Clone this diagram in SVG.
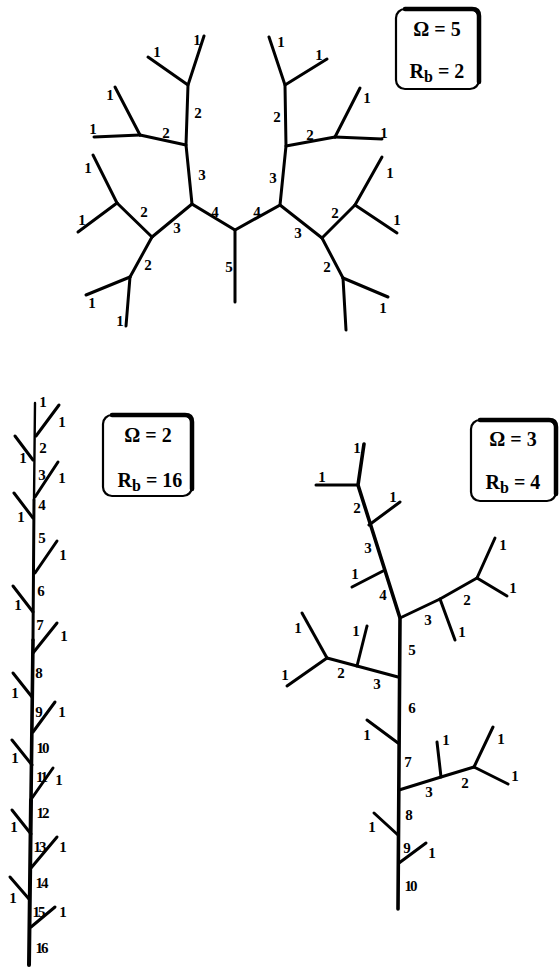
<svg xmlns="http://www.w3.org/2000/svg" width="559" height="967" viewBox="0 0 559 967">
<style>
.e{stroke:#000;stroke-width:3;stroke-linecap:round;fill:none}
.m{stroke-width:3.6}
.t{font-family:"Liberation Serif","Times New Roman",serif;font-weight:bold;font-size:15px;text-anchor:middle;fill:#000}
.b{font-family:"Liberation Serif","Times New Roman",serif;font-weight:bold;font-size:20px;text-anchor:middle;fill:#000}
.bx{fill:#fff;stroke:#000;stroke-width:2.2}
.sh{fill:none;stroke:#000;stroke-width:4.5;stroke-linecap:round}
</style>
<rect width="559" height="967" fill="#fff"/>

<!-- Tree 1 (Omega = 5) -->
<g id="tree1">
<g id="tree1-connectors">
<polyline class="e" points="204,36 188,85 186,145 192,204 235,230 280,205 286,146 285,85 269,37"/>
<line class="e" x1="148" y1="57" x2="188" y2="85"/>
<line class="e" x1="186" y1="145" x2="140" y2="135"/>
<line class="e" x1="140" y1="135" x2="94" y2="137"/>
<line class="e" x1="140" y1="135" x2="115" y2="87"/>
<line class="e" x1="235" y1="230" x2="235" y2="302"/>
<line class="e" x1="192" y1="204" x2="152" y2="237"/>
<line class="e" x1="152" y1="237" x2="117" y2="203"/>
<line class="e" x1="117" y1="203" x2="93" y2="155"/>
<line class="e" x1="117" y1="203" x2="78" y2="232"/>
<line class="e" x1="152" y1="237" x2="130" y2="277"/>
<line class="e" x1="130" y1="277" x2="86" y2="295"/>
<line class="e" x1="130" y1="277" x2="126" y2="326"/>
<line class="e" x1="327" y1="59" x2="285" y2="85"/>
<line class="e" x1="286" y1="146" x2="335" y2="137"/>
<line class="e" x1="335" y1="137" x2="382" y2="139"/>
<line class="e" x1="335" y1="137" x2="360" y2="88"/>
<line class="e" x1="280" y1="205" x2="322" y2="238"/>
<line class="e" x1="322" y1="238" x2="355" y2="205"/>
<line class="e" x1="355" y1="205" x2="382" y2="157"/>
<line class="e" x1="355" y1="205" x2="397" y2="233"/>
<line class="e" x1="322" y1="238" x2="343" y2="278"/>
<line class="e" x1="343" y1="278" x2="388" y2="297"/>
<line class="e" x1="343" y1="278" x2="346" y2="330"/>
</g>
<g id="tree1-labels">
<text class="t" x="157" y="57">1</text>
<text class="t" x="197" y="45">1</text>
<text class="t" x="198" y="118">2</text>
<text class="t" x="110" y="100">1</text>
<text class="t" x="93" y="134">1</text>
<text class="t" x="166" y="138">2</text>
<text class="t" x="202" y="180">3</text>
<text class="t" x="215" y="217">4</text>
<text class="t" x="229" y="272">5</text>
<text class="t" x="177" y="233">3</text>
<text class="t" x="144" y="217">2</text>
<text class="t" x="88" y="173">1</text>
<text class="t" x="82" y="225">1</text>
<text class="t" x="148" y="270">2</text>
<text class="t" x="92" y="308">1</text>
<text class="t" x="120" y="326">1</text>
<text class="t" x="281" y="47">1</text>
<text class="t" x="319" y="60">1</text>
<text class="t" x="277" y="122">2</text>
<text class="t" x="310" y="140">2</text>
<text class="t" x="384" y="138">1</text>
<text class="t" x="367" y="103">1</text>
<text class="t" x="273" y="183">3</text>
<text class="t" x="257" y="217">4</text>
<text class="t" x="298" y="238">3</text>
<text class="t" x="335" y="218">2</text>
<text class="t" x="390" y="178">1</text>
<text class="t" x="397" y="225">1</text>
<text class="t" x="327" y="272">2</text>
<text class="t" x="383" y="313">1</text>
</g>
</g>

<g id="legend1">
<rect class="bx" x="396" y="9" width="83" height="80" rx="9"/>
<path class="sh" d="M405,9 H472 Q479,9 479,16 V82"/>
<text class="b" x="437" y="36">Ω = 5</text>
<text class="b" x="437" y="78">R<tspan font-size="16" dy="4">b</tspan><tspan dy="-4"> = 2</tspan></text>
</g>

<!-- Tree 2 (Omega = 2) -->
<g id="tree2">
<g id="tree2-connectors">
<line class="e" style="stroke-width:2.4" x1="35" y1="403" x2="34" y2="500"/>
<line class="e" style="stroke-width:3" x1="34" y1="500" x2="33" y2="640"/>
<line class="e" style="stroke-width:3.6" x1="33" y1="640" x2="31" y2="800"/>
<line class="e" style="stroke-width:4" x1="31" y1="800" x2="29" y2="965"/>
<line class="e" x1="36" y1="436" x2="59" y2="405"/>
<line class="e" x1="15" y1="436" x2="33" y2="460"/>
<line class="e" x1="35" y1="497" x2="58" y2="462"/>
<line class="e" x1="14" y1="493" x2="33" y2="518"/>
<line class="e" x1="35" y1="573" x2="57" y2="541"/>
<line class="e" x1="13" y1="586" x2="33" y2="612"/>
<line class="e" x1="33" y1="653" x2="57" y2="623"/>
<line class="e" x1="13" y1="673" x2="32" y2="697"/>
<line class="e" x1="33" y1="732" x2="55" y2="702"/>
<line class="e" x1="12" y1="740" x2="32" y2="765"/>
<line class="e" x1="32" y1="798" x2="53" y2="768"/>
<line class="e" x1="12" y1="810" x2="31" y2="834"/>
<line class="e" x1="31" y1="868" x2="57" y2="837"/>
<line class="e" x1="10" y1="877" x2="29" y2="899"/>
<line class="e" x1="31" y1="927" x2="55" y2="907"/>
</g>
<g id="tree2-labels">
<text class="t" x="43" y="407">1</text>
<text class="t" x="62" y="427">1</text>
<text class="t" x="43" y="453">2</text>
<text class="t" x="23" y="463">1</text>
<text class="t" x="42" y="480">3</text>
<text class="t" x="62" y="483">1</text>
<text class="t" x="42" y="510">4</text>
<text class="t" x="21" y="522">1</text>
<text class="t" x="42" y="543">5</text>
<text class="t" x="63" y="560">1</text>
<text class="t" x="41" y="596">6</text>
<text class="t" x="18" y="610">1</text>
<text class="t" x="40" y="630">7</text>
<text class="t" x="64" y="641">1</text>
<text class="t" x="39" y="678">8</text>
<text class="t" x="15" y="698">1</text>
<text class="t" x="39" y="717">9</text>
<text class="t" x="62" y="717">1</text>
<text class="t" x="42" y="753" letter-spacing="-2">10</text>
<text class="t" x="15" y="763">1</text>
<text class="t" x="41" y="782" letter-spacing="-2">11</text>
<text class="t" x="59" y="785">1</text>
<text class="t" x="42" y="818" letter-spacing="-2">12</text>
<text class="t" x="14" y="832">1</text>
<text class="t" x="39" y="852" letter-spacing="-2">13</text>
<text class="t" x="63" y="852">1</text>
<text class="t" x="41" y="888" letter-spacing="-2">14</text>
<text class="t" x="13" y="903">1</text>
<text class="t" x="38" y="917" letter-spacing="-2">15</text>
<text class="t" x="63" y="917">1</text>
<text class="t" x="41" y="953" letter-spacing="-2">16</text>
</g>
</g>

<g id="legend2">
<rect class="bx" x="103" y="415" width="89" height="81" rx="9"/>
<path class="sh" d="M112,415 H185 Q192,415 192,422 V489"/>
<text class="b" x="148" y="442">Ω = 2</text>
<text class="b" x="150" y="487">R<tspan font-size="16" dy="4">b</tspan><tspan dy="-4"> = 16</tspan></text>
</g>

<!-- Tree 3 (Omega = 3) -->
<g id="tree3">
<g id="tree3-connectors">
<polyline class="e m" points="364,444 358,485 400,618 398,909"/>
<line class="e" x1="316" y1="485" x2="358" y2="485"/>
<line class="e" x1="369" y1="525" x2="400" y2="502"/>
<line class="e" x1="383" y1="571" x2="352" y2="587"/>
<polyline class="e" points="400,618 440,599 477,578"/>
<line class="e" x1="440" y1="599" x2="455" y2="640"/>
<line class="e" x1="477" y1="578" x2="495" y2="538"/>
<line class="e" x1="477" y1="578" x2="507" y2="596"/>
<polyline class="e" points="398,677 357,666 327,658"/>
<line class="e" x1="357" y1="666" x2="367" y2="626"/>
<line class="e" x1="327" y1="658" x2="302" y2="613"/>
<line class="e" x1="327" y1="658" x2="287" y2="686"/>
<line class="e" x1="367" y1="720" x2="398" y2="743"/>
<polyline class="e" points="399,790 441,777 474,767"/>
<line class="e" x1="441" y1="777" x2="437" y2="742"/>
<line class="e" x1="474" y1="767" x2="493" y2="727"/>
<line class="e" x1="474" y1="767" x2="508" y2="784"/>
<line class="e" x1="374" y1="813" x2="398" y2="835"/>
<line class="e" x1="399" y1="863" x2="426" y2="843"/>
</g>
<g id="tree3-labels">
<text class="t" x="357" y="453">1</text>
<text class="t" x="322" y="482">1</text>
<text class="t" x="357" y="513">2</text>
<text class="t" x="393" y="502">1</text>
<text class="t" x="368" y="553">3</text>
<text class="t" x="355" y="579">1</text>
<text class="t" x="383" y="600">4</text>
<text class="t" x="428" y="625">3</text>
<text class="t" x="467" y="605">2</text>
<text class="t" x="503" y="550">1</text>
<text class="t" x="513" y="593">1</text>
<text class="t" x="462" y="637">1</text>
<text class="t" x="412" y="655">5</text>
<text class="t" x="298" y="633">1</text>
<text class="t" x="356" y="636">1</text>
<text class="t" x="285" y="680">1</text>
<text class="t" x="341" y="678">2</text>
<text class="t" x="377" y="689">3</text>
<text class="t" x="412" y="713">6</text>
<text class="t" x="367" y="740">1</text>
<text class="t" x="408" y="767">7</text>
<text class="t" x="446" y="745">1</text>
<text class="t" x="501" y="744">1</text>
<text class="t" x="515" y="781">1</text>
<text class="t" x="429" y="797">3</text>
<text class="t" x="465" y="788">2</text>
<text class="t" x="409" y="820">8</text>
<text class="t" x="372" y="832">1</text>
<text class="t" x="407" y="853">9</text>
<text class="t" x="432" y="858">1</text>
<text class="t" x="410" y="891" letter-spacing="-2">10</text>
</g>
</g>

<g id="legend3">
<rect class="bx" x="471" y="420" width="85" height="81" rx="9"/>
<path class="sh" d="M480,420 H549 Q556,420 556,427 V494"/>
<text class="b" x="513" y="446">Ω = 3</text>
<text class="b" x="513" y="489">R<tspan font-size="16" dy="4">b</tspan><tspan dy="-4"> = 4</tspan></text>
</g>
</svg>
